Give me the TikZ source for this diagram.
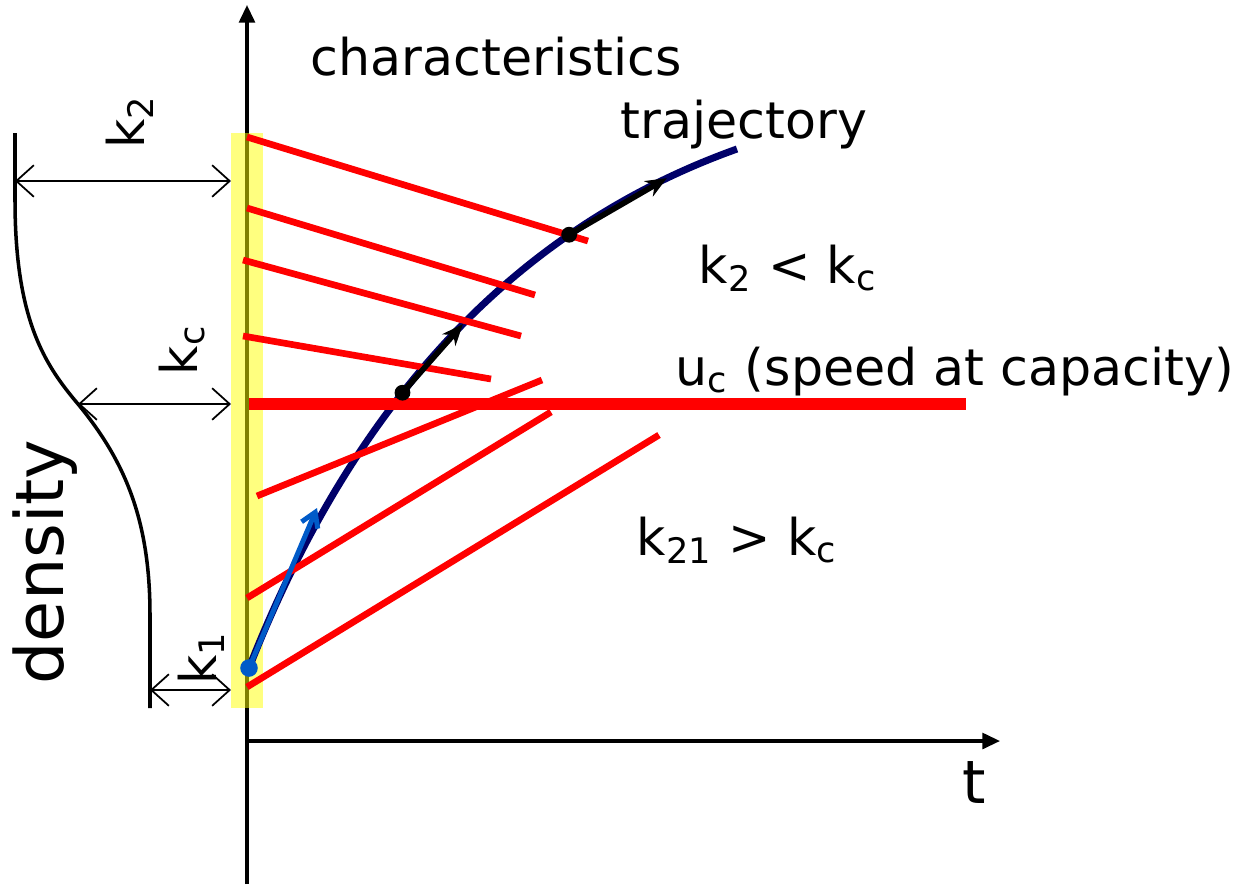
\documentclass[tikz,border=0pt]{standalone}
\usepackage{fontspec}
\setmainfont{DejaVu Sans}
\usetikzlibrary{arrows.meta}
\definecolor{charred}{RGB}{255,0,0}
\definecolor{trajnavy}{RGB}{0,0,105}
\definecolor{probeblue}{RGB}{0,90,200}
\definecolor{bandyellow}{RGB}{255,255,0}

\begin{document}
\begin{tikzpicture}[
  x=0.01cm, y=-0.01cm,
  axis/.style={line width=0.9pt, -{Triangle[length=5pt,width=4.5pt]}},
  charline/.style={draw=charred, line width=1.9pt},
  capline/.style={draw=charred, line width=3.6pt},
  traj/.style={draw=trajnavy, line width=2pt},
  trajarrow/.style={line width=1.6pt, -{Stealth[length=6pt,width=5pt]}},
  probe/.style={draw=probeblue, line width=1.4pt, -{Straight Barb[length=4pt,width=5pt]}},
  gap/.style={{Straight Barb[length=5pt,width=9pt]}-{Straight Barb[length=5pt,width=9pt]}, line width=0.5pt},
  lbl/.style={font=\fontsize{14.4}{17}\selectfont, inner sep=0pt, anchor=base west},
  sidelbl/.style={font=\fontsize{14.4}{17}\selectfont, inner sep=0pt, rotate=90},
  dot/.style={circle, fill=black, inner sep=0pt, minimum size=4.5pt},
]
  \useasboundingbox (0,0) rectangle (1239,884);

  % axes
  \draw[axis] (247,884) -- (247,5);
  \draw[axis] (247,741) -- (1000,741);
  \node[lbl, font=\fontsize{17}{20}\selectfont] (tlbl) at (962,803) {t};

  % highlighted initial line
  \fill[bandyellow, opacity=0.5] (231,133) rectangle (263,708);

  % density profile
  \draw[line width=1pt] (15,133) -- (15,200)
    .. controls (15,320) and (45,365) .. (78,404)
    .. controls (125,461) and (150,520) .. (150,615) -- (150,708);
  \coordinate (kt) at (15,181);
  \coordinate (kmid) at (78,404);
  \coordinate (kb) at (150,690);
  \coordinate (bt) at (231,181);
  \coordinate (bmid) at (231,404);
  \coordinate (bb) at (231,690);
  \draw[gap] (kt) -- (bt);
  \draw[gap] (kmid) -- (bmid);
  \draw[gap] (kb) -- (bb);
  \node[sidelbl] (k2lbl) at (130,122) {k\textsubscript{2}};
  \node[sidelbl] (kclbl) at (182,350) {k\textsubscript{c}};
  \node[sidelbl] (k1lbl) at (201,658) {k\textsubscript{1}};
  \node[sidelbl, font=\fontsize{19}{22}\selectfont] (dens) at (45,562) {density};

  % trajectory
  \coordinate (veh) at (249,668);
  \draw[traj] (veh) .. controls (354,401) and (516,228) .. (737,149)
    coordinate[pos=0.40] (m1) coordinate[pos=0.527] (a1)
    coordinate[pos=0.727] (m2) coordinate[pos=0.891] (a2);

  % characteristics
  \foreach \xa/\ya/\xb/\yb in {247/137/588/241, 247/208/535/295, 243/260/521/336,
      243/336/491/379, 257/496/542/380, 247/598/551/412, 247/687/659/435}
    \draw[charline] (\xa,\ya) -- (\xb,\yb);
  \draw[capline] (249,404) -- (966,404);

  \draw[trajarrow] (m1) -- (a1);
  \draw[trajarrow] (m2) -- (a2);
  \node[dot] at (m1) {};
  \node[dot] at (m2) {};

  % vehicle speed
  \coordinate (vdir) at (317,508);
  \draw[probe] (veh) -- (vdir);
  \node[dot, fill=probeblue, minimum size=5pt] (vehdot) at (veh) {};

  % labels
  \node[lbl] (chars) at (310,75) {characteristics};
  \node[lbl] (trajlbl) at (620,138) {trajectory};
  \node[lbl] (cong) at (698,283) {k\textsubscript{2} < k\textsubscript{c}};
  \node[lbl] (cap) at (675,385) {u\textsubscript{c} (speed at capacity)};
  \node[lbl] (free) at (636,555) {k\textsubscript{21} > k\textsubscript{c}};
\end{tikzpicture}
\end{document}
